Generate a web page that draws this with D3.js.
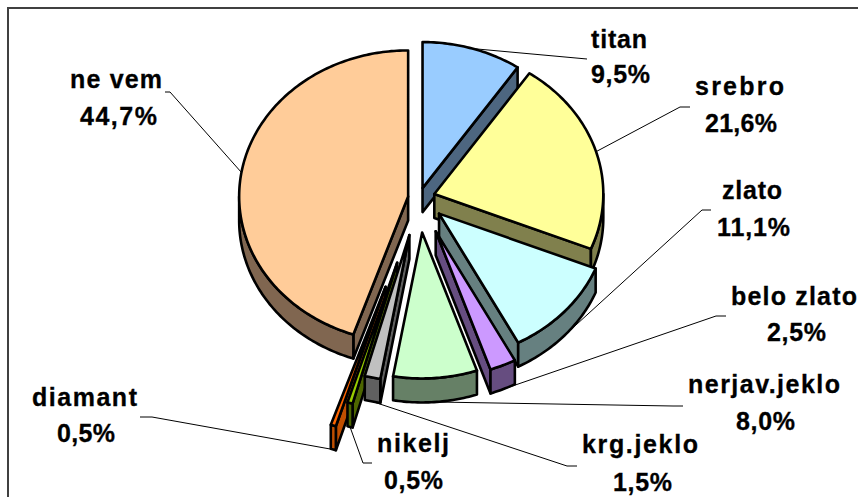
<!DOCTYPE html>
<html>
<head>
<meta charset="utf-8">
<script src="https://cdn.jsdelivr.net/npm/d3@7"></script>
<style>
    html, body { margin: 0; padding: 0; background: #fff; overflow: hidden; }
    text { font-family: "Liberation Sans", Arial, sans-serif; font-weight: bold; font-size: 25px; fill: #000; stroke: #000; stroke-width: 0.3px; }
</style>
</head>
<body>
<div id="chart"></div>
<script>
// data
let categories = ['titan', 'srebro', 'zlato', 'belo zlato', 'nerjav.jeklo', 'krg.jeklo', 'nikelj', 'diamant', 'ne vem'];
let values = [9.5, 21.6, 11.1, 2.5, 8.0, 1.5, 0.5, 0.5, 44.7];
let colors = ['#99CCFF', '#FFFF99', '#CCFFFF', '#CC99FF', '#CCFFCC', '#C0C0C0', '#99CC00', '#FF6600', '#FFCC99'];
let sideColors = ['#4D6680', '#80804D', '#668080', '#664D80', '#668066', '#606060', '#4D6600', '#C04F00', '#806650'];

// layout: each slice is pulled out by its own amount, as in the original
let explode = [12, 16, 27, 42, 40, 44, 78, 108, 11];
// label boxes: [x, baseline, width] for name row and percent row
let nameBox = [[591, 48, 56], [695, 95, 89], [722, 199, 60], [731, 305, 126], [688, 393, 152], [582, 453, 116], [377, 452, 72], [32, 406, 105], [70, 88, 92]];
let pctBox = [[591, 83, 59], [705, 132, 72], [717, 236, 73], [767, 341, 59], [736, 430, 59], [613, 491, 59], [384, 489, 59], [57, 442, 58], [80, 125, 77]];
// leader elbows: bend point and end of the short horizontal piece
let elbow = [[587, 59, 587], [680, 107, 690], [702, 210, 711], [716, 316, 726], [673, 406, 683], [567, 466, 577], [363, 463, 372], [152, 417, 140], [170, 92, 165]];

let width = 858, height = 497;
let cx = 419, cy = 198, rx = 169, ry = 146, depth = 24;

let svg = d3.select('#chart').append('svg')
    .attr('width', width)
    .attr('height', height)
    .style('display', 'block');

// chart frame, only left and top are inside the picture
svg.append('path')
    .attr('d', 'M8,' + (height + 5) + 'V8H' + (width + 5))
    .attr('fill', 'none')
    .attr('stroke', '#404040')
    .attr('stroke-width', 2);

let pie = d3.pie().sort(null).startAngle(0).endAngle(2 * Math.PI).value(function (d) { return d; });
let slices = pie(values).map(function (d, i) {
    let mid = (d.startAngle + d.endAngle) / 2;
    return {
        i: i,
        a0: d.startAngle,
        a1: d.endAngle,
        mid: mid,
        tipX: cx + explode[i] * Math.sin(mid),
        tipY: cy - explode[i] * Math.cos(mid) * ry / rx
    };
});

function rim(s, a) {
    return [s.tipX + rx * Math.sin(a), s.tipY - ry * Math.cos(a)];
}
function arcPoints(s, a0, a1) {
    let n = Math.max(2, Math.ceil((a1 - a0) * 60));
    return d3.range(n + 1).map(function (k) { return rim(s, a0 + (a1 - a0) * k / n); });
}
function drop(p) {
    return [p[0], p[1] + depth];
}
let line = d3.line().curve(d3.curveLinear);

// leader lines sit behind the slices
let leaderG = svg.append('g').attr('class', 'leaders');
slices.forEach(function (s) {
    let p = rim(s, s.mid);
    if (Math.cos(s.mid) < 0) p = drop(p);
    let e = elbow[s.i];
    leaderG.append('path')
        .attr('d', line([p, [e[0], e[1]], [e[2], e[1]]]))
        .attr('fill', 'none')
        .attr('stroke', '#000')
        .attr('stroke-width', 1);
});

// back slices first so the front ones cover them
let order = slices.slice().sort(function (a, b) { return Math.cos(b.mid) - Math.cos(a.mid); });
let pieG = svg.append('g').attr('class', 'pie3d')
    .attr('stroke', '#000')
    .attr('stroke-width', 2.6)
    .attr('stroke-linejoin', 'round');

order.forEach(function (s) {
    let g = pieG.append('g');
    let side = sideColors[s.i];
    let tip = [s.tipX, s.tipY];
    // cut faces, only the ones turned to the viewer
    if (Math.sin(s.a0) < -1e-6) {
        let p = rim(s, s.a0);
        g.append('path').attr('fill', side)
            .attr('d', line([tip, p, drop(p), drop(tip)]) + 'Z');
    }
    if (Math.sin(s.a1) > 1e-6) {
        let p = rim(s, s.a1);
        g.append('path').attr('fill', side)
            .attr('d', line([tip, p, drop(p), drop(tip)]) + 'Z');
    }
    // outer wall, lower half of the ellipse only
    let w0 = Math.max(s.a0, Math.PI / 2), w1 = Math.min(s.a1, 3 * Math.PI / 2);
    if (w1 > w0) {
        let top = arcPoints(s, w0, w1);
        g.append('path').attr('fill', side)
            .attr('d', line(top.concat(top.slice().reverse().map(drop))) + 'Z');
    }
    // top face
    g.append('path').attr('fill', colors[s.i])
        .attr('d', line([tip].concat(arcPoints(s, s.a0, s.a1))) + 'Z');
});

// labels, widths forced so the spaced-out look of the original stays
let labelG = svg.append('g').attr('class', 'labels');
function addLabel(str, box) {
    labelG.append('text')
        .attr('x', box[0])
        .attr('y', box[1])
        .attr('textLength', box[2])
        .attr('lengthAdjust', 'spacing')
        .text(str);
}
categories.forEach(function (name, i) {
    addLabel(name, nameBox[i]);
    addLabel(values[i].toFixed(1).replace('.', ',') + '%', pctBox[i]);
});
</script>
</body>
</html>
